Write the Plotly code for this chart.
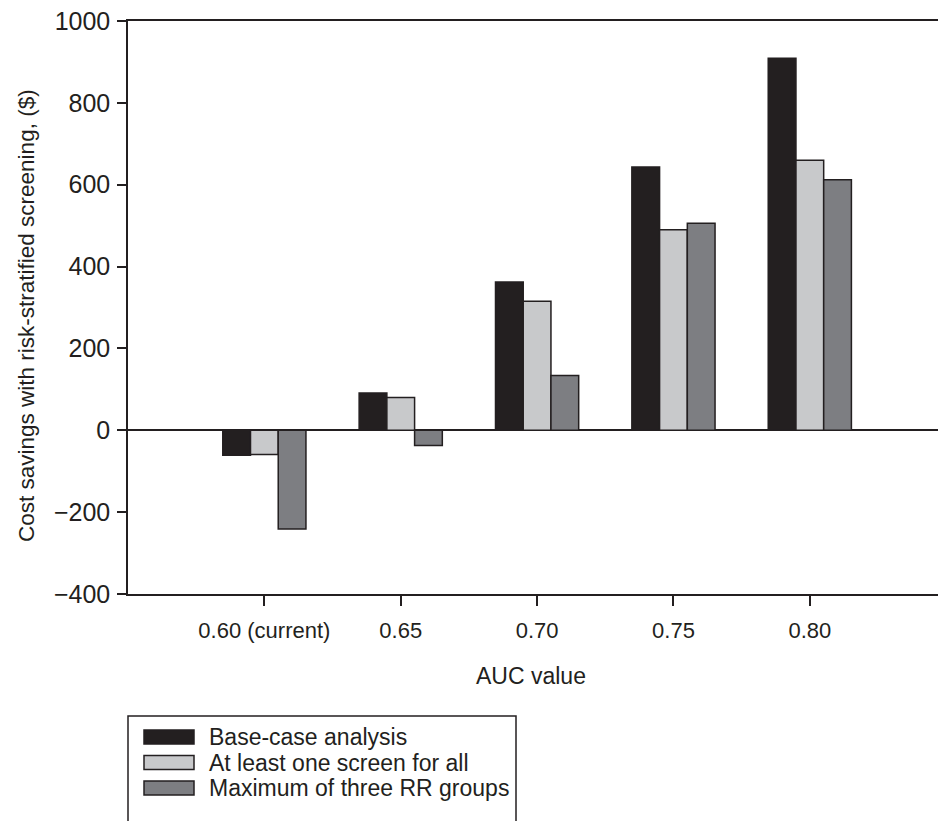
import plotly.graph_objects as go

categories = ["0.60 (current)", "0.65", "0.70", "0.75", "0.80"]
series_names = ["Base-case analysis", "At least one screen for all", "Maximum of three RR groups"]
base_case = [-61, 91, 362, 643, 909]
at_least_one = [-59, 80, 315, 490, 660]
max_three = [-241, -37, 134, 506, 612]
y_ticks = [-400, -200, 0, 200, 400, 600, 800, 1000]
x_title = "AUC value"
y_title = "Cost savings with risk-stratified screening, ($)"

colors = ["#231f20", "#c8c9cb", "#7d7e82"]
ink = "#231f20"
FONT = "Liberation Sans, Arial, sans-serif"

W, H = 938, 821
ML, MR, MT, MB = 128, 0, 21, 227
PW, PH = W - ML - MR, H - MT - MB

def px_x(px):
    return (px - ML) / PW

def px_y(py):
    return (H - MB - py) / PH

fig = go.Figure()
for name, vals, col in zip(series_names, [base_case, at_least_one, max_three], colors):
    fig.add_trace(go.Bar(
        x=categories, y=vals, name=name,
        marker=dict(color=col, line=dict(color=ink, width=1.5)),
        showlegend=False,
    ))

# manual legend (box, swatches, labels)
shapes = [dict(type="rect", xref="paper", yref="paper",
               x0=px_x(128), x1=px_x(516), y0=px_y(860), y1=px_y(716),
               line=dict(color=ink, width=1.5), fillcolor="rgba(0,0,0,0)", layer="above")]
annotations = []
row_centers = [737, 762.5, 788]
for name, col, cy in zip(series_names, colors, row_centers):
    shapes.append(dict(type="rect", xref="paper", yref="paper",
                       x0=px_x(144), x1=px_x(194), y0=px_y(cy + 7), y1=px_y(cy - 7),
                       line=dict(color=ink, width=1.5), fillcolor=col, layer="above"))
    annotations.append(dict(xref="paper", yref="paper", x=px_x(207), y=px_y(cy),
                            xanchor="left", yanchor="middle", showarrow=False,
                            text=name, font=dict(family=FONT, size=23, color=ink)))

# axis titles
annotations.append(dict(xref="paper", yref="paper", x=px_x(531), y=px_y(676),
                        xanchor="center", yanchor="middle", showarrow=False,
                        text=x_title, font=dict(family=FONT, size=23, color=ink)))
annotations.append(dict(xref="paper", yref="paper", x=px_x(26), y=px_y(316),
                        xanchor="center", yanchor="middle", showarrow=False, textangle=-90,
                        text=y_title, font=dict(family=FONT, size=22.5, color=ink)))

fig.update_layout(
    width=W, height=H,
    margin=dict(l=ML, r=MR, t=MT, b=MB, pad=0),
    paper_bgcolor="white", plot_bgcolor="white",
    barmode="group", bargap=0.39, bargroupgap=0,
    font=dict(family=FONT, color=ink),
    shapes=shapes, annotations=annotations,
    showlegend=False,
)
fig.update_xaxes(
    type="category", range=[-1.0, 4.94],
    showline=True, linecolor=ink, linewidth=1.5, mirror=True,
    ticks="outside", ticklen=10, tickwidth=1.5, tickcolor=ink,
    showgrid=False, zeroline=False, ticklabelstandoff=6,
    tickfont=dict(family=FONT, size=22, color=ink),
)
fig.update_yaxes(
    range=[-400, 1000], tickvals=y_ticks,
    showline=True, linecolor=ink, linewidth=1.5,
    ticks="outside", ticklen=9, tickwidth=1.5, tickcolor=ink,
    showgrid=False, zeroline=True, zerolinecolor=ink, zerolinewidth=1.5,
    ticklabelstandoff=2,
    tickfont=dict(family=FONT, size=25, color=ink),
)

fig.write_html("out.html", config={"displayModeBar": False},
               post_script="document.body.style.margin='0';")
